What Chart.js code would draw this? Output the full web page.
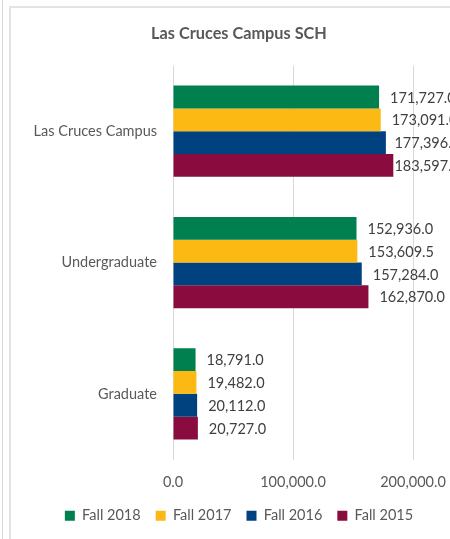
<!DOCTYPE html>
<html>
<head>
<meta charset="utf-8">
<script src="https://cdn.jsdelivr.net/npm/chart.js@4.4.0/dist/chart.umd.min.js"></script>
<style>
    html, body { margin: 0; padding: 0; background: #fff; overflow: hidden; width: 450px; height: 539px; }
    .edge { position: absolute; left: 2px; top: 0; width: 1px; height: 539px; background: #d6d6d6; }
    .frame { position: absolute; left: 9px; top: 6px; width: 460px; height: 560px; border-left: 2px solid #e3e3e3; border-top: 2px solid #e3e3e3; }
    #wrap { position: absolute; left: 10px; top: 7px; width: 452px; height: 532px; }
</style>
</head>
<body>
<div class="edge"></div>
<div class="frame"></div>
<div id="wrap"><canvas id="sch"></canvas></div>
<script>
const categories = ['Las Cruces Campus', 'Undergraduate', 'Graduate'];
const seriesNames = ['Fall 2018', 'Fall 2017', 'Fall 2016', 'Fall 2015'];
const fall2018 = [171727.0, 152936.0, 18791.0];
const fall2017 = [173091.0, 153609.5, 19482.0];
const fall2016 = [177396.0, 157284.0, 20112.0];
const fall2015 = [183597.0, 162870.0, 20727.0];
const xTicks = [0, 100000, 200000];

const COLORS = ['#00804f', '#fdb913', '#00427f', '#8a0c3f'];
const FONT = 'Lato, "Open Sans", sans-serif';

let fmt = function (v) {
    return v.toLocaleString('en-US', { minimumFractionDigits: 1, maximumFractionDigits: 1 });
};

// value labels to the right of each bar, pushed back in near the chart edge
const barLabels = {
    id: 'barLabels',
    afterDatasetsDraw(chart) {
        let ctx = chart.ctx;
        ctx.save();
        ctx.font = '14.5px ' + FONT;
        ctx.fillStyle = '#404040';
        ctx.textAlign = 'left';
        ctx.textBaseline = 'middle';
        let limit = chart.width - 2;
        chart.data.datasets.forEach(function (ds, i) {
            chart.getDatasetMeta(i).data.forEach(function (bar, j) {
                let txt = fmt(ds.data[j]);
                let x = Math.min(bar.x + 11, limit - ctx.measureText(txt).width);
                ctx.fillText(txt, x, bar.y + 1);
            });
        });
        ctx.restore();
    }
};

let allSeries = [fall2018, fall2017, fall2016, fall2015];

new Chart(document.getElementById('sch'), {
    type: 'bar',
    data: {
        labels: categories,
        datasets: seriesNames.map(function (name, i) {
            return {
                label: name,
                data: allSeries[i],
                backgroundColor: COLORS[i],
                borderWidth: 0,
                categoryPercentage: 0.695,
                barPercentage: 1.0
            };
        })
    },
    options: {
        indexAxis: 'y',
        responsive: true,
        maintainAspectRatio: false,
        animation: false,
        layout: { padding: { left: 6, right: 0, top: 0, bottom: 6 } },
        plugins: {
            title: {
                display: true,
                text: 'Las Cruces Campus SCH',
                color: '#595959',
                font: { family: FONT, size: 16.3, weight: 'bold' },
                padding: { top: 17, bottom: 22 }
            },
            legend: {
                position: 'bottom',
                labels: {
                    color: '#595959',
                    font: { family: FONT, size: 14.5 },
                    boxWidth: 10,
                    boxHeight: 10,
                    padding: 15
                }
            },
            tooltip: { enabled: false }
        },
        scales: {
            x: {
                min: 0,
                max: 200000,
                afterBuildTicks: function (scale) {
                    scale.ticks = xTicks.map(function (v) { return { value: v }; });
                },
                afterFit: function (scale) {
                    scale.height = 34;
                    scale.paddingRight = 49;
                },
                grid: { color: '#d9d9d9', drawTicks: false },
                border: { display: false },
                ticks: {
                    padding: 14,
                    color: '#595959',
                    font: { family: FONT, size: 14.5 },
                    callback: function (v) { return fmt(v); }
                }
            },
            y: {
                afterFit: function (scale) {
                    scale.width = 157;
                },
                grid: { display: false, drawTicks: false },
                border: { display: false },
                ticks: {
                    padding: 16,
                    color: '#595959',
                    font: { family: FONT, size: 14.5 }
                }
            }
        }
    },
    plugins: [barLabels]
});
</script>
</body>
</html>
